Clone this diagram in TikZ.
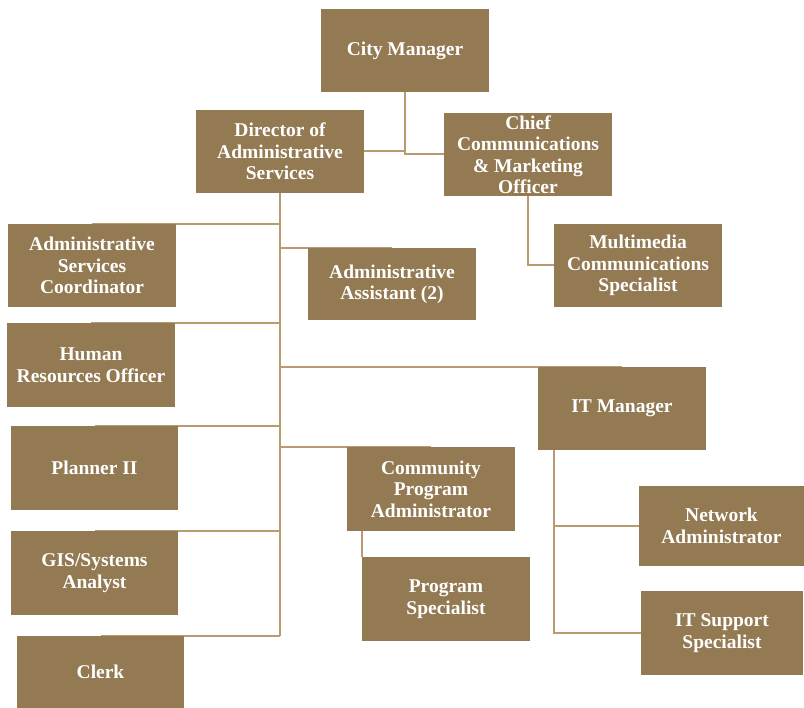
\documentclass[tikz,border=0pt]{standalone}
\usepackage{fontspec}
\setmainfont{Liberation Serif}
\usetikzlibrary{positioning,calc,backgrounds}
\definecolor{BoxBrown}{HTML}{937A52}
\definecolor{LineTan}{HTML}{B89C6F}
\tikzset{
  post/.style={rectangle,fill=BoxBrown,text=white,inner sep=0pt,
               minimum width=168pt,minimum height=83pt,
               text centered,align=center,
               font=\fontsize{19.5pt}{21.5pt}\selectfont\bfseries},
  link/.style={draw=LineTan,line width=2pt}
}
\begin{document}
\begin{tikzpicture}[x=1pt,y=-1pt]
  \useasboundingbox (0,0) rectangle (804,708);
  % top level
  \node[post] (cm) at (405,50.5) {City Manager};
  \node[post] (dir) at (280,151.5) {Director of\\Administrative\\Services};
  \node[post] (chief) at (528,154.5) {Chief\\Communications\\\& Marketing\\Officer};
  \node[post] (mm) at (638,265.5) {Multimedia\\Communications\\Specialist};
  % left column
  \node[post] (asc) at (92,265.5) {Administrative\\Services\\Coordinator};
  \node[post,minimum height=84pt] (hr) at (91,365) {Human\\Resources Officer};
  \node[post,minimum width=167pt,minimum height=84pt] (pl) at (94.5,468) {Planner II};
  \node[post,minimum width=167pt,minimum height=84pt] (gis) at (94.5,573) {GIS/Systems\\Analyst};
  \node[post,minimum width=167pt,minimum height=72pt] (clerk) at (100.5,672) {Clerk};
  % right of trunk
  \node[post,minimum height=72pt] (aa) at (392,284.5) {Administrative\\Assistant (2)};
  \node[post] (itm) at (622,408.5) {IT Manager};
  \node[post,minimum height=84pt] (cpa) at (431,489) {Community\\Program\\Administrator};
  \node[post,minimum height=84pt] (ps) at (446,599) {Program\\Specialist};
  \node[post,minimum width=165pt,minimum height=80pt] (net) at (721.5,526) {Network\\Administrator};
  \node[post,minimum width=162pt,minimum height=84pt] (its) at (722,633) {IT Support\\Specialist};
  % connectors
  \begin{scope}[on background layer]
    \draw[link] (cm.south) |- (chief.west);
    \draw[link] (dir.east) -- (cm.south |- dir.east);
    \draw[link] (chief.south) |- (mm.west);
    \draw[link] (dir.south) -- (dir.south |- clerk.north);
    \foreach \n in {asc,hr,pl,gis,clerk,aa,itm,cpa}
      \draw[link] (dir.south |- \n.north) -- (\n.north);
    \draw[link] (cpa.south -| ps.west) -- (ps.north west);
    \draw[link] ([xshift=16pt]itm.south west) |- (net.west);
    \draw[link] ([xshift=16pt]itm.south west) |- (its.west);
  \end{scope}
\end{tikzpicture}
\end{document}
